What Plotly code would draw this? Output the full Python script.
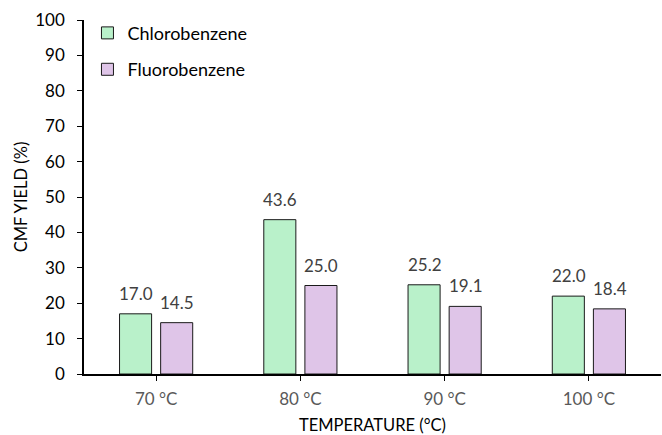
import plotly.graph_objects as go

categories = ["70 °C", "80 °C", "90 °C", "100 °C"]
chloro = [17.0, 43.6, 25.2, 22.0]
fluoro = [14.5, 25.0, 19.1, 18.4]
y_ticks = [0, 10, 20, 30, 40, 50, 60, 70, 80, 90, 100]

FONT = "Lato"
GREEN = "#B9F1CA"
PURPLE = "#DFC5E8"

fig = go.Figure()
fig.add_trace(go.Bar(x=categories, y=chloro, name="Chlorobenzene",
                     marker=dict(color=GREEN, line=dict(color="#1a1a1a", width=1)),
                     offsetgroup="a", legendgroup="a"))
fig.add_trace(go.Bar(x=categories, y=fluoro, name="Fluorobenzene",
                     marker=dict(color=PURPLE, line=dict(color="#1a1a1a", width=1)),
                     offsetgroup="b", legendgroup="b"))

for vals, shift in ((chloro, -20), (fluoro, 21)):
    for c, v in zip(categories, vals):
        fig.add_annotation(x=c, y=v, text=f"{v:.1f}", showarrow=False,
                           xshift=shift, yshift=8, yanchor="bottom",
                           font=dict(family=FONT, size=17, color="#404040"))

fig.update_layout(
    width=662, height=435,
    margin=dict(l=84, r=1, t=20, b=61, autoexpand=False),
    paper_bgcolor="white", plot_bgcolor="white",
    bargap=0.43, bargroupgap=0.22,
    font=dict(family=FONT, color="#000000"),
    legend=dict(x=0.006, y=1.015, xanchor="left", yanchor="top",
                font=dict(family=FONT, size=18, color="#000000"),
                tracegroupgap=10, traceorder="grouped",
                bgcolor="rgba(0,0,0,0)"),
    xaxis=dict(showline=True, linecolor="#000000", linewidth=1.5, automargin=False,
               ticks="outside", ticklen=5, tickcolor="#000000", ticklabelstandoff=4,
               tickfont=dict(family=FONT, size=17, color="#595959"),
               title=dict(text="TEMPERATURE (°C)", font=dict(family=FONT, size=16.5, color="#000000"),
                          standoff=13),
               showgrid=False),
    yaxis=dict(range=[0, 100], tickvals=y_ticks, showline=True, linecolor="#000000",
               linewidth=1.5, ticks="outside", ticklen=5, tickcolor="#000000", automargin=False,
               ticklabelstandoff=9,
               tickfont=dict(family=FONT, size=17, color="#000000"),
               title=dict(text="CMF YIELD (%)", font=dict(family=FONT, size=16.5, color="#000000"),
                          standoff=3),
               showgrid=False, zeroline=False),
)

fig.write_html("out.html", config={"displayModeBar": False},
               post_script="document.body.style.margin='0';")
